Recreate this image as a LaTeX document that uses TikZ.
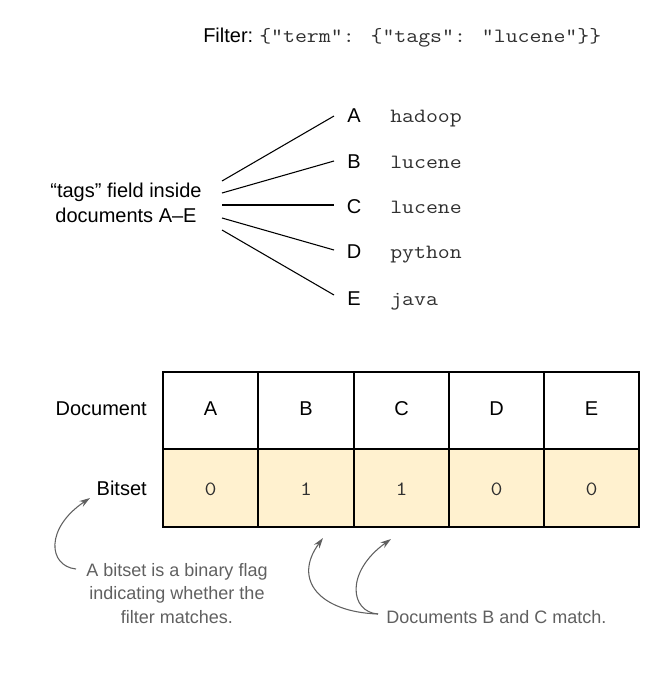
\documentclass[tikz,border=0pt]{standalone}
\usepackage{fontspec}
\setmainfont{Liberation Sans}
\newfontfamily\cmono{Latin Modern Mono}[FakeStretch=1.143]
\usetikzlibrary{arrows.meta}
\definecolor{cream}{HTML}{FFF1CF}
\definecolor{annot}{HTML}{606060}
\definecolor{codec}{HTML}{303030}
\begin{document}
\begin{tikzpicture}[x=0.75pt,y=-0.75pt,
  lbl/.style={font=\fontsize{15}{18}\selectfont, inner sep=0pt, anchor=base},
  code/.style={font=\fontsize{15.2}{18}\selectfont\cmono, text=codec, inner sep=0pt, anchor=base west},
  note/.style={font=\fontsize{13.5}{17.5}\selectfont, text=annot, inner sep=0pt},
  link/.style={draw=black, line width=0.8pt},
  cell/.style={draw=black, line width=0.9pt},
  callout/.style={draw=annot, line width=0.8pt, -{Stealth[length=8pt,width=5pt]}}]
\useasboundingbox (0,0) rectangle (664,683);

% filter line
\node[lbl, anchor=base west] (flt) at (203,42) {Filter:};
\node[code] (fcode) at (259,42) {\{"term": \{"tags": "lucene"\}\}};

% tags field
\node[lbl, anchor=base] (tags1) at (126,197) {“tags” field inside};
\node[lbl, anchor=base] (tags2) at (126,222) {documents A–E};

\foreach \n/\y/\v in {A/122/hadoop, B/168/lucene, C/213/lucene, D/258/python, E/305/java}{
  \node[lbl] (L\n) at (354,\y) {\n};
  \node[code] (V\n) at (390,\y) {\v};
}

\coordinate (sA) at (222,181); \coordinate (eA) at (334,116);
\coordinate (sB) at (222,193); \coordinate (eB) at (334,161);
\coordinate (sC) at (222,205); \coordinate (eC) at (334,205);
\coordinate (sD) at (222,218); \coordinate (eD) at (334,250);
\coordinate (sE) at (222,230); \coordinate (eE) at (334,295);
\foreach \n in {A,B,C,D,E}{ \draw[link] (s\n) -- (e\n); }

% table
\fill[cream] (163,449) rectangle (639,527);
\foreach \i/\xa/\xb/\t/\d in {1/163/258/A/0, 2/258/354/B/1, 3/354/449/C/1, 4/449/544/D/0, 5/544/639/E/0}{
  \draw[cell] (\xa,372) rectangle (\xb,449);
  \draw[cell] (\xa,449) rectangle (\xb,527);
  \node[lbl] (H\i) at ({(\xa+\xb)/2},415) {\t};
  \node[code, anchor=base] (D\i) at ({(\xa+\xb)/2},495) {\d};
}
\node[lbl, anchor=base east] (docl) at (147,415) {Document};
\node[lbl, anchor=base east] (bitl) at (147,495) {Bitset};

% annotations
\node[note, align=center, anchor=base] (n1) at (177,623) {A bitset is a binary flag\\indicating whether the\\filter matches.};
\node[note, anchor=base west] (n2) at (386,623) {Documents B and C match.};

\coordinate (t1) at (76,569);
\coordinate (h1) at (90,498);
\draw[callout] (t1) .. controls (48,566) and (45,528) .. (h1);
\coordinate (t2) at (378,614);
\coordinate (h2) at (323,538);
\coordinate (h3) at (391,539);
\draw[callout] (t2) .. controls (320,612) and (292,580) .. (h2);
\draw[callout] (t2) .. controls (350,612) and (345,572) .. (h3);
\end{tikzpicture}
\end{document}
